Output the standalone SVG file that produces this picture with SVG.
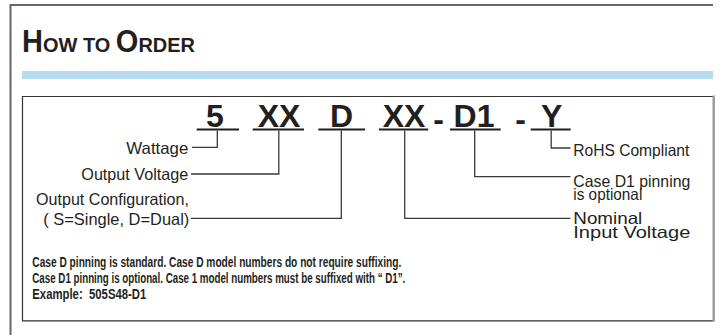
<svg xmlns="http://www.w3.org/2000/svg" width="721" height="335" viewBox="0 0 721 335">
<style>
.lbl{font-family:"Liberation Sans",Arial,sans-serif;font-size:16.5px;fill:#231f20}
.pn{font-family:"Liberation Sans",Arial,sans-serif;font-size:32px;font-weight:bold;fill:#231f20;text-anchor:middle}
.note{font-family:"Liberation Sans",Arial,sans-serif;font-size:14.5px;font-weight:bold;fill:#231f20}
.title{font-family:"Liberation Sans",Arial,sans-serif;font-weight:bold;fill:#231f20}
.ul{stroke:#231f20;stroke-width:2.2;fill:none}
.con{stroke:#3a3a3a;stroke-width:1.3;fill:none}
</style>
<rect width="721" height="335" fill="#ffffff"/>
<g id="frame">
<line x1="10" y1="5" x2="713" y2="5" stroke="#666" stroke-width="2"/>
<line x1="10.5" y1="4" x2="10.5" y2="335" stroke="#666" stroke-width="2"/>
<rect x="22" y="71" width="691" height="8" fill="#b8dcf0"/>
<path d="M713.5,96.5 H22.5 V320.8 H713.5" fill="none" stroke="#333" stroke-width="1.2"/>
<line x1="713.7" y1="95.5" x2="713.7" y2="321.5" stroke="#999" stroke-width="2.4"/>
</g>
<g id="title">
<text class="title" x="22" y="52" textLength="173" lengthAdjust="spacingAndGlyphs"><tspan font-size="30.5">H</tspan><tspan font-size="21">OW TO </tspan><tspan font-size="30.5">O</tspan><tspan font-size="21">RDER</tspan></text>
</g>
<g id="partnumber">
<text class="pn" x="215" y="127">5</text>
<text class="pn" x="279" y="127">XX</text>
<text class="pn" x="341.5" y="127">D</text>
<text class="pn" x="404" y="127">XX</text>
<text class="pn" x="438.5" y="130">-</text>
<text class="pn" x="474" y="127">D1</text>
<text class="pn" x="520.5" y="130">-</text>
<text class="pn" x="551.7" y="127">Y</text>
<line class="ul" x1="196.7" y1="129.5" x2="239" y2="129.5"/>
<line class="ul" x1="252.7" y1="129.5" x2="304" y2="129.5"/>
<line class="ul" x1="318.3" y1="129.5" x2="365" y2="129.5"/>
<line class="ul" x1="379" y1="129.5" x2="428.3" y2="129.5"/>
<line class="ul" x1="450" y1="129.5" x2="500.7" y2="129.5"/>
<line class="ul" x1="530.7" y1="129.5" x2="570.7" y2="129.5"/>
</g>
<g id="connectors">
<path class="con" d="M217.3,130.5 V147.3 H192"/>
<path class="con" d="M278.8,130.5 V174 H191"/>
<path class="con" d="M341.3,130.5 V218.3 H191"/>
<path class="con" d="M404.7,130.5 V218.3 H570.5"/>
<path class="con" d="M474.7,130.5 V176.7 H570.5"/>
<path class="con" d="M551.2,130.5 V148 H570.5"/>
</g>
<g id="wattage"><text class="lbl" x="188.3" y="154" text-anchor="end" textLength="62" lengthAdjust="spacingAndGlyphs">Wattage</text></g>
<g id="output-voltage"><text class="lbl" x="188.3" y="180" text-anchor="end" textLength="107" lengthAdjust="spacingAndGlyphs">Output Voltage</text></g>
<g id="output-config">
<text class="lbl" x="36" y="205" textLength="153" lengthAdjust="spacingAndGlyphs">Output Configuration,</text>
<text class="lbl" x="43.3" y="224.5" textLength="146" lengthAdjust="spacingAndGlyphs">( S=Single, D=Dual)</text>
</g>
<g id="rohs"><text class="lbl" x="573.3" y="155.5" textLength="116" lengthAdjust="spacingAndGlyphs">RoHS Compliant</text></g>
<g id="case-d1">
<text class="lbl" x="573.3" y="186.5" textLength="117" lengthAdjust="spacingAndGlyphs">Case D1 pinning</text>
<text class="lbl" x="573.3" y="199.5" textLength="69" lengthAdjust="spacingAndGlyphs">is optional</text>
</g>
<g id="nominal">
<text class="lbl" x="573.3" y="224.3" textLength="69" lengthAdjust="spacingAndGlyphs">Nominal</text>
<text class="lbl" x="573.3" y="237.7" textLength="117" lengthAdjust="spacingAndGlyphs">Input Voltage</text>
</g>
<g id="notes">
<text class="note" x="32.3" y="267.3" textLength="369" lengthAdjust="spacingAndGlyphs">Case D pinning is standard. Case D model numbers do not require suffixing.</text>
<text class="note" x="32.3" y="283.3" textLength="373" lengthAdjust="spacingAndGlyphs">Case D1 pinning is optional. Case 1 model numbers must be suffixed with “ D1”.</text>
<text class="note" x="32.3" y="299.3" textLength="114" lengthAdjust="spacingAndGlyphs">Example:&#160; 505S48-D1</text>
</g>
</svg>
